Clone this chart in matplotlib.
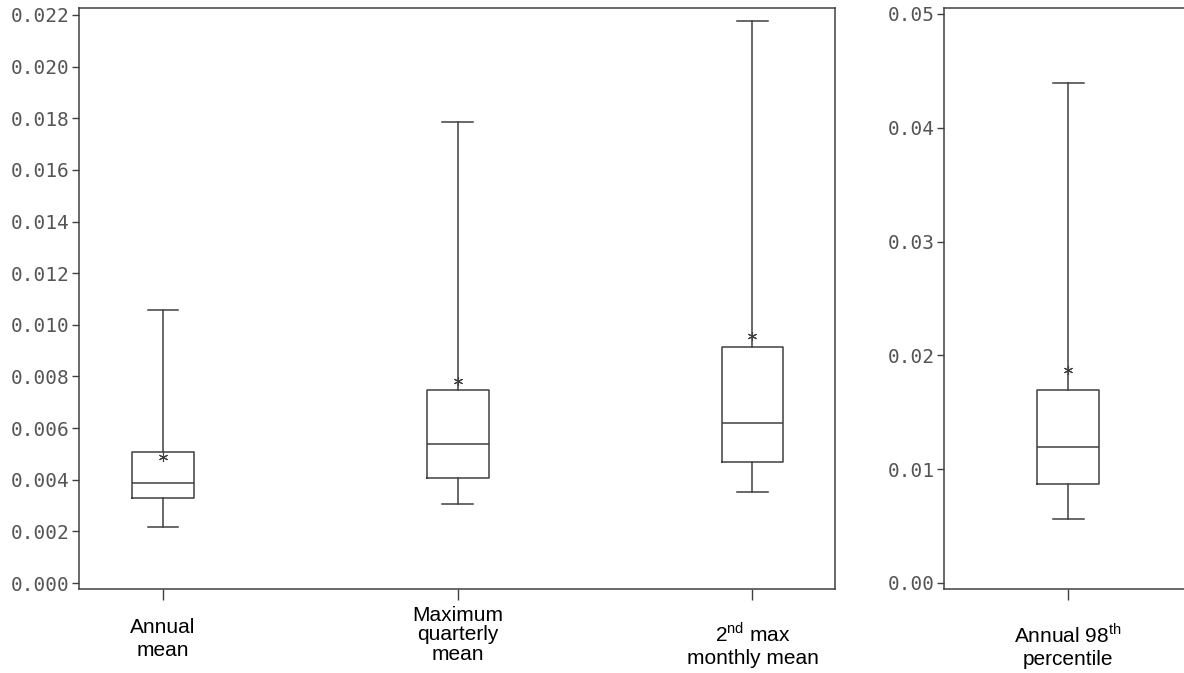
import matplotlib.pyplot as plt
from matplotlib.transforms import blended_transform_factory

plt.rcParams["mathtext.fontset"] = "custom"
plt.rcParams["mathtext.rm"] = "Liberation Sans"

# left panel: concentration metrics
left_labels = ["Annual\nmean", "Maximum\nquarterly\nmean", "2$^{\\rm nd}$ max\nmonthly mean"]
left_whislo = [0.00216, 0.00306, 0.00353]
left_q1 = [0.00328, 0.00408, 0.00468]
left_med = [0.00386, 0.00540, 0.00620]
left_q3 = [0.00508, 0.00748, 0.00914]
left_whishi = [0.01058, 0.01787, 0.02178]
left_mean = [0.00487, 0.00784, 0.00955]
left_yticks = [0.000, 0.002, 0.004, 0.006, 0.008, 0.010, 0.012, 0.014, 0.016, 0.018, 0.020, 0.022]

# right panel
right_labels = ["Annual 98$^{\\rm th}$\npercentile"]
right_whislo = [0.00565]
right_q1 = [0.00867]
right_med = [0.01198]
right_q3 = [0.01700]
right_whishi = [0.04394]
right_mean = [0.01875]
right_yticks = [0.00, 0.01, 0.02, 0.03, 0.04, 0.05]

LINE = "#404040"


def make_stats(lo, q1, med, q3, hi, mean):
    return [dict(whislo=a, q1=b, med=c, q3=d, whishi=e, mean=f, fliers=[])
            for a, b, c, d, e, f in zip(lo, q1, med, q3, hi, mean)]


def draw_panel(ax, stats, labels, yticks, fmt, ylim, xlim, label_y):
    pos = list(range(1, len(stats) + 1))
    ax.bxp(stats, positions=pos, widths=0.21, showmeans=True, showfliers=False,
           boxprops=dict(color=LINE, lw=1.1),
           whiskerprops=dict(color=LINE, lw=1.1),
           capprops=dict(color=LINE, lw=1.1),
           medianprops=dict(color=LINE, lw=1.1),
           meanprops=dict(marker=(6, 2, 0), markeredgecolor=LINE, markerfacecolor=LINE,
                          markersize=6.5, markeredgewidth=0.8))
    ax.set_xlim(*xlim)
    ax.set_ylim(*ylim)
    ax.set_yticks(yticks)
    ax.set_yticklabels([fmt.format(v) for v in yticks])
    ax.set_xticks(pos)
    ax.set_xticklabels([])
    ax.tick_params(axis="x", length=8, width=1, color=LINE)
    ax.tick_params(axis="y", length=5, width=1, color=LINE, labelcolor="#555555",
                   labelsize=14, pad=2)
    for t in ax.get_yticklabels():
        t.set_fontfamily("DejaVu Sans Mono")
    for s in ax.spines.values():
        s.set_color(LINE)
        s.set_linewidth(1.1)
    tr = blended_transform_factory(ax.transData, ax.figure.transFigure)
    for p, lab, y in zip(pos, labels, label_y):
        # three-line label needs tighter spacing to stay inside the figure
        ls = 1.05 if lab.count("\n") > 1 else 1.22
        ax.text(p, y, lab, transform=tr, ha="center", va="center", fontsize=15,
                family="Liberation Sans", linespacing=ls)


fig = plt.figure(figsize=(11.84, 6.73), dpi=100)
ax1 = fig.add_axes([79 / 1184, 84 / 673, 756 / 1184, 581.5 / 673])
ax2 = fig.add_axes([944 / 1184, 84 / 673, 248 / 1184, 581.5 / 673])

draw_panel(ax1, make_stats(left_whislo, left_q1, left_med, left_q3, left_whishi, left_mean),
           left_labels, left_yticks, "{:.3f}", (-0.00023, 0.02229), (0.715, 3.28),
           [1 - 639 / 673, 1 - 635 / 673, 1 - 645 / 673])
draw_panel(ax2, make_stats(right_whislo, right_q1, right_med, right_q3, right_whishi, right_mean),
           right_labels, right_yticks, "{:.2f}", (-0.00053, 0.05057), (0.58, 1.42),
           [1 - 646 / 673])

fig.savefig("out.png", dpi=100)
